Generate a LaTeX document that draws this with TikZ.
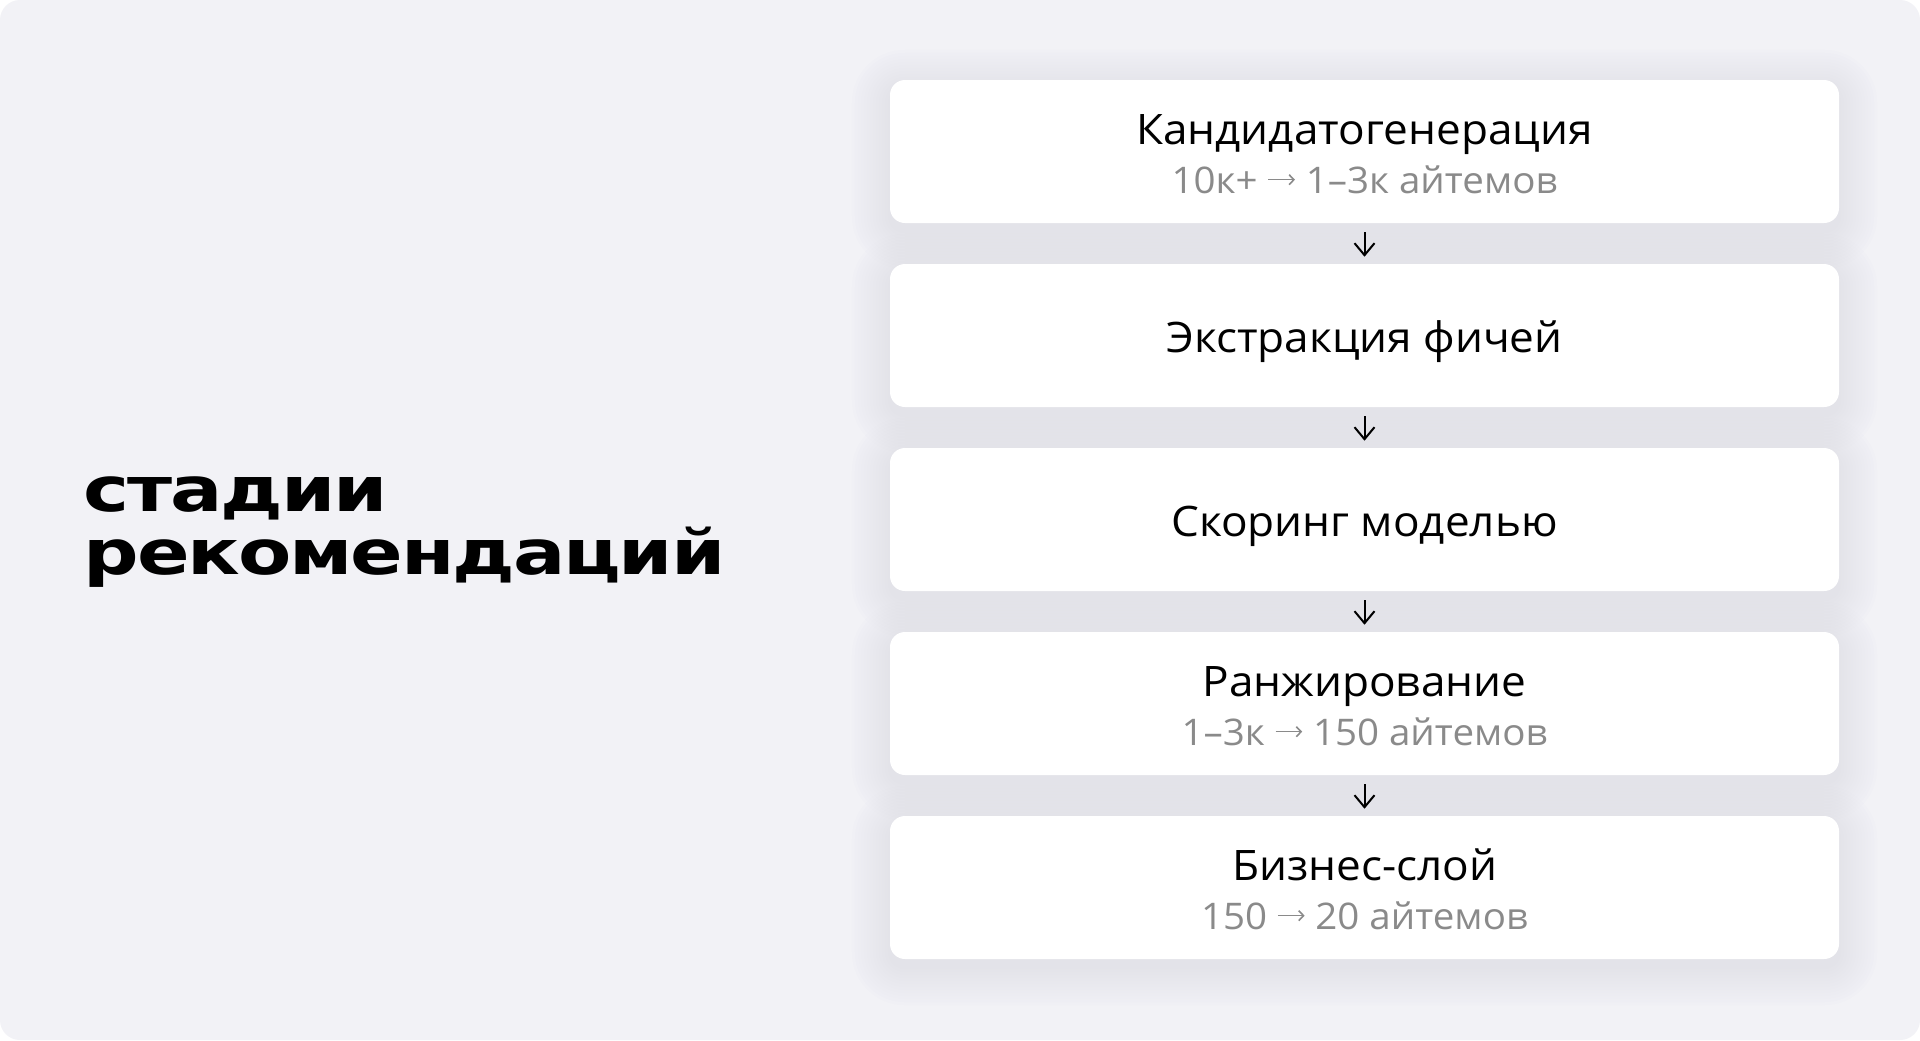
\documentclass[tikz,border=0pt]{standalone}
\usepackage{fontspec}
\setmainfont[FakeStretch=1.05]{Open Sans}
\newfontfamily\headfont[FakeStretch=1.25,LetterSpace=-3.5]{DejaVu Sans}
\usetikzlibrary{arrows.meta}
\definecolor{canvasbg}{HTML}{F2F2F6}
\definecolor{shadowc}{HTML}{70708A}
\definecolor{subgray}{HTML}{8A8A8A}
\pgfdeclarelayer{canvas}
\pgfdeclarelayer{shadow}
\pgfsetlayers{canvas,shadow,main}
\newcommand{\sarr}{\tikz[baseline=0pt,x=1pt,y=1pt]{\draw[subgray, line width=1.2pt,
  -{Straight Barb[length=3.6pt, width=7.5pt, line width=1.2pt]}] (0,10) -- (20,10);}}
\tikzset{
  stagebox/.style={fill=white, rounded corners=11.25pt, minimum width=711.75pt,
    minimum height=107.25pt, inner sep=0pt, draw=none},
  ttl/.style={anchor=base, inner sep=0pt, font=\fontsize{31.5pt}{36pt}\selectfont, text=black},
  sub/.style={anchor=base, inner sep=0pt, font=\fontsize{27.5pt}{32pt}\selectfont, text=subgray},
  head/.style={anchor=base west, inner sep=0pt, font=\headfont\bfseries\fontsize{46.6pt}{50pt}\selectfont, text=black},
  flow/.style={draw=black, line width=1.5pt, shorten <=6.75pt, shorten >=5.25pt,
    -{Straight Barb[length=9pt, width=15pt, line width=1.5pt]}},
}
\begin{document}
\begin{tikzpicture}[x=0.75pt, y=-0.75pt]
\useasboundingbox (0,0) rectangle (1920,1040);
\begin{pgfonlayer}{canvas}
  \fill[white] (0,0) rectangle (1920,1040);
  \fill[canvasbg, rounded corners=15pt] (0,0) rectangle (1920,1040);
\end{pgfonlayer}

% heading
\node[head] (h1) at (83.5,511) {стадии};
\node[head] (h2) at (83.5,574) {рекомендаций};

% boxes
\node[stagebox] (b1) at (1364.5,151.5) {};
\node[stagebox] (b2) at (1364.5,335.5) {};
\node[stagebox] (b3) at (1364.5,519.5) {};
\node[stagebox] (b4) at (1364.5,703.5) {};
\node[stagebox] (b5) at (1364.5,887.5) {};

% shadows
\begin{pgfonlayer}{shadow}
  \foreach \b in {b1,b2,b3,b4,b5}{
    \foreach \k in {2,5,...,38}{
      \fill[shadowc, fill opacity=0.006, rounded corners=11.25pt+0.75*\k pt]
        ([shift={(-\k,-\k+8)}]\b.north west) rectangle ([shift={(\k,\k+8)}]\b.south east);
    }
  }
\end{pgfonlayer}

% texts
\node[ttl] (t1) at (1364.5,144) {Кандидатогенерация};
\node[sub] (s1) at (1364.5,193) {10к+ \sarr{} 1–3к айтемов};
\node[ttl] (t2) at (1364.5,352) {Экстракция фичей};
\node[ttl] (t3) at (1364.5,536) {Скоринг моделью};
\node[ttl] (t4) at (1364.5,696) {Ранжирование};
\node[sub] (s4) at (1364.5,745) {1–3к \sarr{} 150 айтемов};
\node[ttl] (t5) at (1364.5,880) {Бизнес-слой};
\node[sub] (s5) at (1364.5,929) {150 \sarr{} 20 айтемов};

% connectors
\draw[flow] (b1.south) -- (b2.north);
\draw[flow] (b2.south) -- (b3.north);
\draw[flow] (b3.south) -- (b4.north);
\draw[flow] (b4.south) -- (b5.north);
\end{tikzpicture}
\end{document}
